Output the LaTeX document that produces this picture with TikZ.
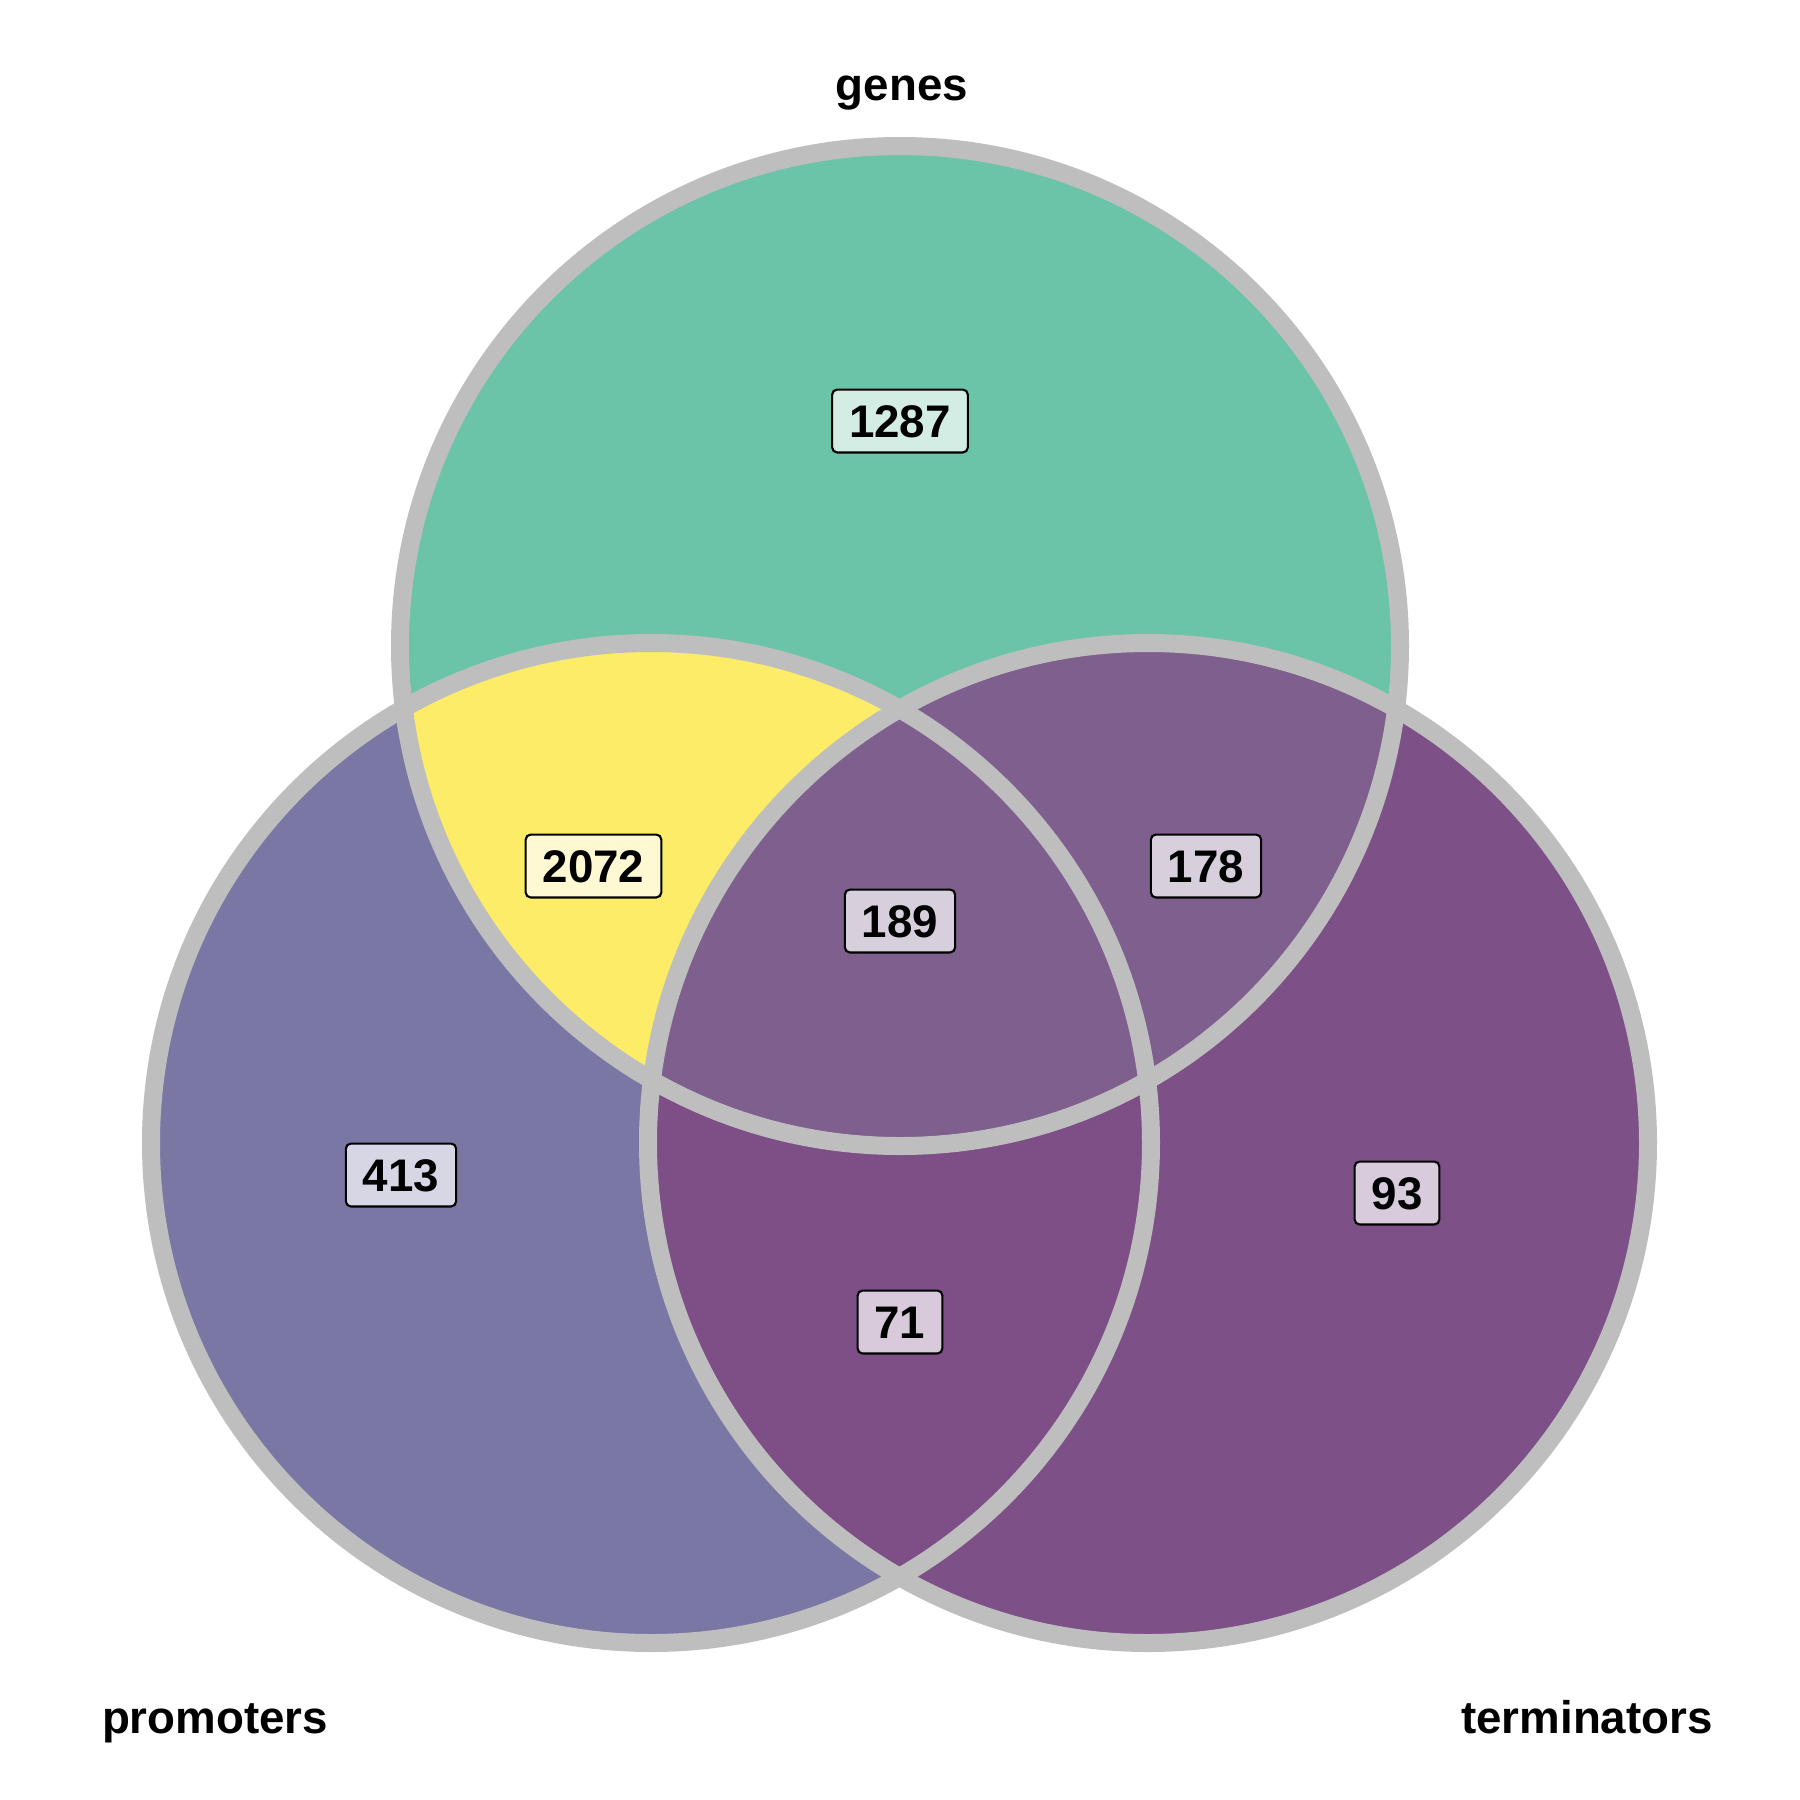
\documentclass[tikz,border=0pt]{standalone}
\usepackage{fontspec}
\setmainfont{Liberation Sans}
\definecolor{genesC}{RGB}{108,196,168}
\definecolor{promC}{RGB}{122,119,165}
\definecolor{termC}{RGB}{125,81,135}
\definecolor{gpC}{RGB}{253,236,104}
\definecolor{gtC}{RGB}{126,95,142}
\definecolor{ptC}{RGB}{126,78,135}
\definecolor{allC}{RGB}{126,95,142}
\definecolor{ringC}{RGB}{190,190,190}
\tikzset{
  ring/.style={draw=ringC, line width=0.18cm},
  setlabel/.style={anchor=base, inner sep=0pt, font=\fontsize{13}{15}\selectfont\bfseries},
  countbox/.style={draw=black, line width=0.6pt, rounded corners=0.05cm,
    inner xsep=0.17cm, inner ysep=4.3pt, text height=9.3pt, text depth=0pt,
    font=\fontsize{13}{15}\selectfont\bfseries},
}
\begin{document}
\begin{tikzpicture}
\useasboundingbox (0,0) rectangle (18,-18);
\def\R{5}
\coordinate (cg) at (9,-6.46);
\coordinate (cp) at (6.51,-11.43);
\coordinate (ct) at (11.48,-11.43);
% single sets
\fill[genesC] (cg) circle (\R);
\fill[promC] (cp) circle (\R);
\fill[termC] (ct) circle (\R);
% pairwise
\begin{scope}
  \clip (cg) circle (\R);
  \fill[gpC] (cp) circle (\R);
\end{scope}
\begin{scope}
  \clip (cg) circle (\R);
  \fill[gtC] (ct) circle (\R);
\end{scope}
\begin{scope}
  \clip (cp) circle (\R);
  \fill[ptC] (ct) circle (\R);
\end{scope}
\begin{scope}
  \clip (cg) circle (\R);
  \clip (cp) circle (\R);
  \fill[allC] (ct) circle (\R);
\end{scope}
% outlines
\draw[ring] (cg) circle (\R);
\draw[ring] (cp) circle (\R);
\draw[ring] (ct) circle (\R);
% set labels
\node[setlabel] (lg) at (9.02,-1.00) {genes};
\node[setlabel] (lp) at (2.15,-17.33) {promoters};
\node[setlabel] (lt) at (15.87,-17.33) {terminators};
% counts
\node[countbox, fill=white!70!genesC] (n1287) at (9.00,-4.21) {1287};
\node[countbox, fill=white!70!gpC] (n2072) at (5.935,-8.66) {2072};
\node[countbox, fill=white!70!gtC] (n178) at (12.06,-8.66) {178};
\node[countbox, fill=white!70!allC] (n189) at (9.00,-9.21) {189};
\node[countbox, fill=white!70!promC] (n413) at (4.01,-11.75) {413};
\node[countbox, fill=white!70!termC] (n93) at (13.97,-11.93) {93};
\node[countbox, fill=white!70!ptC] (n71) at (9.00,-13.22) {71};
\end{tikzpicture}
\end{document}
